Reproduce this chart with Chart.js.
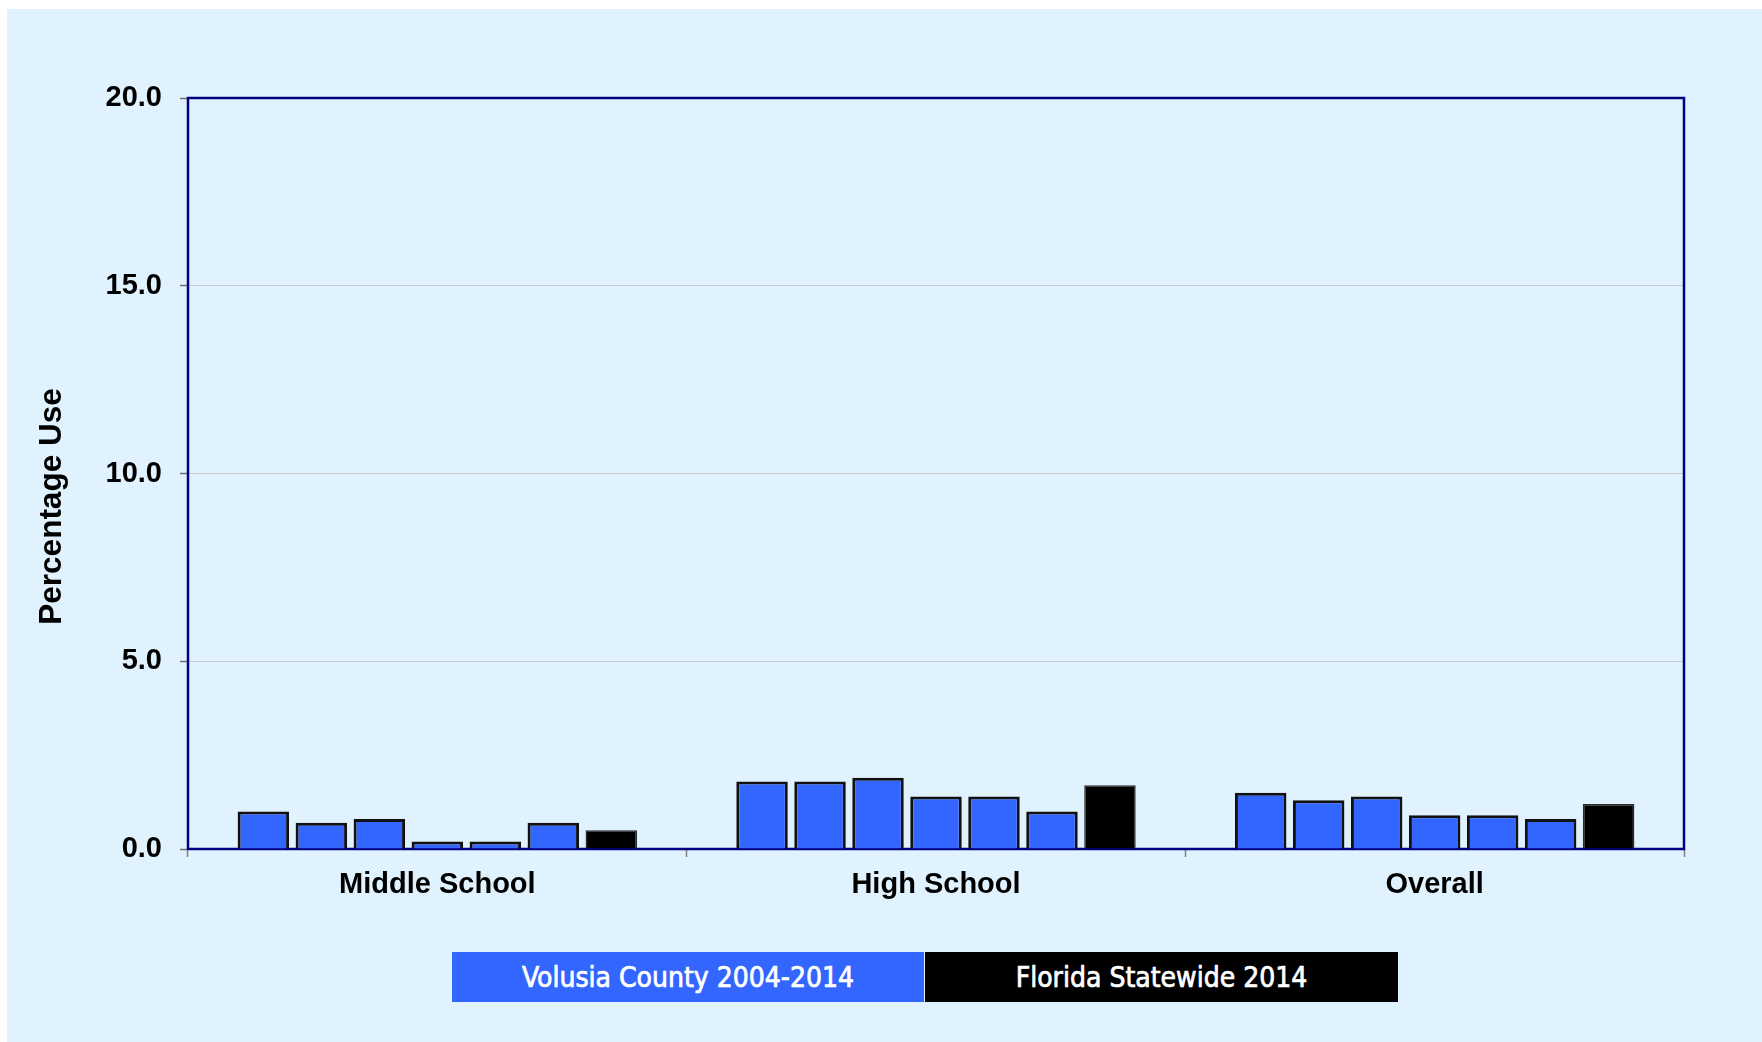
<!DOCTYPE html>
<html>
<head>
<meta charset="utf-8">
<script src="https://cdn.jsdelivr.net/npm/chart.js@4.4.1/dist/chart.umd.min.js"></script>
<style>
  html, body { margin: 0; padding: 0; background: #ffffff; }
  body { width: 1762px; height: 1042px; position: relative; overflow: hidden; }
  #panel { position: absolute; left: 7px; top: 9px; width: 1755px; height: 1033px; background: #E0F2FE; }
  #wrap { position: absolute; left: 0; top: 0; width: 1762px; height: 1042px; }
  #legend { position: absolute; left: 452px; top: 952px; height: 50px; display: flex; }
  #legend div {
    height: 50px; display: flex; align-items: center; justify-content: center;
    color: #ffffff; font-family: "DejaVu Sans Condensed", "DejaVu Sans", sans-serif;
    font-stretch: condensed; font-size: 28px; font-weight: normal;
    -webkit-text-stroke: 0.7px #ffffff;
  }
</style>
</head>
<body>
<div id="panel"></div>
<div id="wrap"><canvas id="c" width="1762" height="1042"></canvas></div>
<div id="legend"></div>
<script>
// ---- data ----
const categories = ['Middle School', 'High School', 'Overall'];
const seriesNames = ['Volusia 2004', 'Volusia 2006', 'Volusia 2008', 'Volusia 2010', 'Volusia 2012', 'Volusia 2014', 'Florida Statewide 2014'];
const v2004 = [1.0, 1.8, 1.5];
const v2006 = [0.7, 1.8, 1.3];
const v2008 = [0.8, 1.9, 1.4];
const v2010 = [0.2, 1.4, 0.9];
const v2012 = [0.2, 1.4, 0.9];
const v2014 = [0.7, 1.0, 0.8];
const fl2014 = [0.5, 1.7, 1.2];
const seriesValues = [v2004, v2006, v2008, v2010, v2012, v2014, fl2014];
const legendLabels = ['Volusia County 2004-2014', 'Florida Statewide 2014'];
const legendColors = ['#3366FF', '#000000'];
const yTickValues = [0, 5, 10, 15, 20];
const yTitle = 'Percentage Use';

const countyColor = '#3366FF';
const stateColor = '#000000';

const datasets = seriesValues.map((vals, i) => {
  const isState = i === seriesValues.length - 1;
  return {
    label: seriesNames[i],
    data: vals,
    backgroundColor: isState ? stateColor : countyColor,
    borderColor: isState ? '#2a2a2a' : '#111111',
    borderWidth: isState ? 1.5 : 3,
    categoryPercentage: 0.814,
    barPercentage: 0.888
  };
});

// legend (HTML)
const leg = document.getElementById('legend');
const legWidths = [472, 473];
legendLabels.forEach((t, i) => {
  const d = document.createElement('div');
  d.textContent = t;
  d.style.background = legendColors[i];
  d.style.width = legWidths[i] + 'px';
  if (i > 0) d.style.marginLeft = '1px';
  leg.appendChild(d);
});

const framePlugin = {
  id: 'frame',
  beforeDatasetsDraw(chart) {
    const a = chart.chartArea;
    const ctx = chart.ctx;
    ctx.save();
    ctx.strokeStyle = '#000080';
    ctx.lineWidth = 2.5;
    ctx.strokeRect(a.left, a.top, a.right - a.left, a.bottom - a.top);
    ctx.restore();
  },
  afterDraw(chart) {
    const ctx = chart.ctx;
    ctx.save();
    ctx.translate(52, 506.5);
    ctx.rotate(-Math.PI / 2);
    ctx.font = 'bold 31.5px "Liberation Sans", Arial, sans-serif';
    ctx.fillStyle = '#000000';
    ctx.textAlign = 'center';
    ctx.textBaseline = 'middle';
    ctx.fillText(yTitle, 0, 0);
    ctx.restore();
  }
};

new Chart(document.getElementById('c'), {
  type: 'bar',
  data: { labels: categories, datasets },
  options: {
    responsive: false,
    animation: false,
    devicePixelRatio: 1,
    layout: { padding: { top: 98, right: 78, bottom: 133, left: 0 } },
    plugins: { legend: { display: false }, tooltip: { enabled: false } },
    scales: {
      x: {
        offset: true,
        border: { display: false },
        grid: { display: true, offset: true, drawOnChartArea: false, drawTicks: true, tickLength: 8, tickColor: '#808080', tickWidth: 1.5 },
        ticks: { color: '#000000', padding: 11, font: { family: '"Liberation Sans", Arial, sans-serif', size: 29, weight: 'bold' } },
        afterFit(s) { s.height = 60; }
      },
      y: {
        min: 0, max: 20,
        border: { display: false },
        afterBuildTicks(s) { s.ticks = yTickValues.map(v => ({ value: v })); },
        grid: { color: '#C8C8C8', lineWidth: 1, drawTicks: true, tickLength: 8, tickColor: '#707070', tickWidth: 1.5 },
        ticks: {
          color: '#000000', padding: 18,
          font: { family: '"Liberation Sans", Arial, sans-serif', size: 29, weight: 'bold' },
          callback: v => Number(v).toFixed(1)
        },
        afterFit(s) { s.width = 188; }
      }
    }
  },
  plugins: [framePlugin]
});
</script>
</body>
</html>
